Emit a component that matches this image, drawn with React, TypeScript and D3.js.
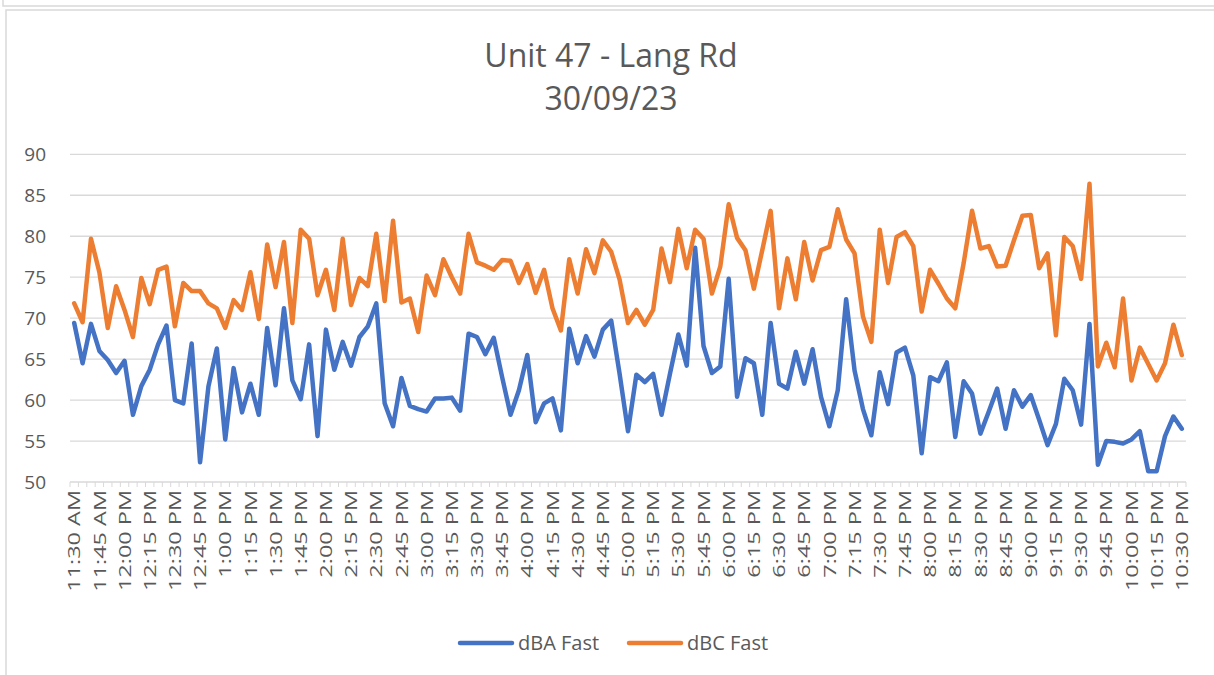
import React from 'react'
import * as d3 from 'd3'

const title = 'Unit 47 - Lang Rd'
const subtitle = '30/09/23'

const tickLabels = [
  '11:30 AM', '11:45 AM', '12:00 PM', '12:15 PM', '12:30 PM', '12:45 PM',
  '1:00 PM', '1:15 PM', '1:30 PM', '1:45 PM', '2:00 PM', '2:15 PM', '2:30 PM', '2:45 PM',
  '3:00 PM', '3:15 PM', '3:30 PM', '3:45 PM', '4:00 PM', '4:15 PM', '4:30 PM', '4:45 PM',
  '5:00 PM', '5:15 PM', '5:30 PM', '5:45 PM', '6:00 PM', '6:15 PM', '6:30 PM', '6:45 PM',
  '7:00 PM', '7:15 PM', '7:30 PM', '7:45 PM', '8:00 PM', '8:15 PM', '8:30 PM', '8:45 PM',
  '9:00 PM', '9:15 PM', '9:30 PM', '9:45 PM', '10:00 PM', '10:15 PM', '10:30 PM',
]

// one reading every 5 minutes, 11:30 AM .. 10:30 PM
const dbaFast = [
  69.4, 64.5, 69.3, 66.0, 64.9, 63.3, 64.8, 58.2, 61.7, 63.7, 66.8, 69.1, 60.0, 59.6, 66.9, 52.4,
  61.7, 66.3, 55.2, 63.9, 58.5, 62.0, 58.2, 68.8, 61.8, 71.2, 62.4, 60.1, 66.8, 55.6, 68.6, 63.7,
  67.1, 64.2, 67.7, 69.0, 71.8, 59.6, 56.8, 62.7, 59.3, 58.9, 58.6, 60.2, 60.2, 60.3, 58.7, 68.1,
  67.7, 65.6, 67.6, 62.8, 58.2, 61.2, 65.5, 57.3, 59.6, 60.2, 56.3, 68.7, 64.5, 67.8, 65.3, 68.6,
  69.7, 63.2, 56.2, 63.1, 62.2, 63.2, 58.2, 63.2, 68.0, 64.2, 78.6, 66.6, 63.3, 64.1, 74.8, 60.4,
  65.1, 64.5, 58.2, 69.4, 62.0, 61.4, 65.9, 62.0, 66.2, 60.4, 56.8, 61.2, 72.3, 63.6, 58.9, 55.7,
  63.4, 59.5, 65.8, 66.4, 63.0, 53.5, 62.8, 62.3, 64.6, 55.5, 62.3, 60.8, 55.9, 58.6, 61.4, 56.5,
  61.2, 59.2, 60.6, 57.6, 54.5, 57.1, 62.6, 61.2, 57.0, 69.3, 52.1, 55.0, 54.9, 54.7, 55.2, 56.2,
  51.3, 51.3, 55.6, 58.0, 56.5,
]

const dbcFast = [
  71.8, 69.5, 79.7, 75.6, 68.8, 73.9, 71.0, 67.7, 74.9, 71.7, 75.9, 76.3, 69.0, 74.3, 73.3, 73.3,
  71.8, 71.2, 68.8, 72.2, 71.0, 75.6, 69.9, 79.0, 73.8, 79.3, 69.4, 80.8, 79.7, 72.8, 75.9, 71.0,
  79.7, 71.6, 74.9, 73.9, 80.3, 72.1, 81.9, 71.9, 72.4, 68.3, 75.2, 72.8, 77.2, 75.0, 73.0, 80.3,
  76.8, 76.4, 75.9, 77.1, 77.0, 74.3, 76.6, 73.1, 75.9, 71.2, 68.5, 77.2, 73.0, 78.4, 75.5, 79.5,
  78.1, 74.7, 69.4, 71.0, 69.2, 71.0, 78.5, 74.4, 80.9, 76.1, 80.8, 79.7, 73.0, 76.3, 83.9, 79.8,
  78.3, 73.6, 78.3, 83.1, 71.2, 77.3, 72.3, 79.3, 74.6, 78.3, 78.7, 83.3, 79.6, 77.9, 70.2, 67.1,
  80.8, 74.3, 79.9, 80.5, 78.8, 70.8, 75.9, 74.2, 72.4, 71.2, 76.7, 83.1, 78.5, 78.8, 76.3, 76.4,
  79.5, 82.5, 82.6, 76.1, 77.9, 67.9, 79.9, 78.8, 74.8, 86.4, 64.1, 67.0, 64.0, 72.4, 62.4, 66.4,
  64.4, 62.4, 64.5, 69.2, 65.5,
]

const yTicks = [50, 55, 60, 65, 70, 75, 80, 85, 90]

const series = [
  { name: 'dBA Fast', values: dbaFast, color: '#4472C4' },
  { name: 'dBC Fast', values: dbcFast, color: '#ED7D31' },
]

const W = 1214
const H = 675
const plot = { left: 70, right: 1186, top: 154.3, bottom: 482 }
const textColor = '#595959'
const grid = '#d9d9d9'
const font = "'Open Sans', sans-serif"

export default function App() {
  const n = dbaFast.length
  const x = d3.scaleBand<number>().domain(d3.range(n)).range([plot.left, plot.right])
  const bw = x.bandwidth()
  const cx = (i: number) => (x(i) as number) + bw / 2
  const y = d3.scaleLinear().domain([50, 90]).range([plot.bottom, plot.top])

  const line = d3.line<number>().x((_, i) => cx(i)).y(d => y(d))

  const legendItems = [
    { s: series[0], x0: 458 },
    { s: series[1], x0: 627 },
  ]

  return (
    <svg width={W} height={H} style={{ position: 'absolute', left: 0, top: 0, background: '#fff' }}
      fontFamily={font}>
      {/* frame of previous chart and of this one */}
      <rect x={3} y={-10} width={1230} height={16} fill="none" stroke={grid} strokeWidth={1.5} />
      <rect x={6} y={10} width={1230} height={700} fill="#fff" stroke={grid} strokeWidth={1.5} />

      <text x={611} y={67} textAnchor="middle" fontSize={32} fill={textColor}>{title}</text>
      <text x={611} y={110} textAnchor="middle" fontSize={32} fill={textColor}>{subtitle}</text>

      {yTicks.map(t => (
        <g key={t}>
          <line x1={plot.left} x2={plot.right} y1={y(t)} y2={y(t)} stroke={grid} strokeWidth={1.3} />
          <text x={46} y={y(t)} dy="0.36em" textAnchor="end" fontSize={19} fill={textColor}>{t}</text>
        </g>
      ))}

      {d3.range(n + 1).map(k => {
        const xx = plot.left + k * bw
        return <line key={k} x1={xx} x2={xx} y1={plot.bottom} y2={plot.bottom + 5} stroke={grid} strokeWidth={1} />
      })}

      {tickLabels.map((lab, j) => (
        <text key={lab} transform={`translate(${cx(j * 3)},${plot.bottom + 8}) rotate(-90) scale(1.38,1)`}
          textAnchor="end" dy="0.36em" fontSize={17} fill={textColor}>{lab}</text>
      ))}

      {series.map(s => (
        <path key={s.name} d={line(s.values) || ''} fill="none" stroke={s.color} strokeWidth={4.5}
          strokeLinejoin="round" strokeLinecap="round" />
      ))}

      {legendItems.map(({ s, x0 }) => (
        <g key={s.name}>
          <line x1={x0 + 2} x2={x0 + 54} y1={643} y2={643} stroke={s.color} strokeWidth={4.5} strokeLinecap="round" />
          <text x={x0 + 60} y={650} fontSize={20} fill={textColor}>{s.name}</text>
        </g>
      ))}
    </svg>
  )
}
